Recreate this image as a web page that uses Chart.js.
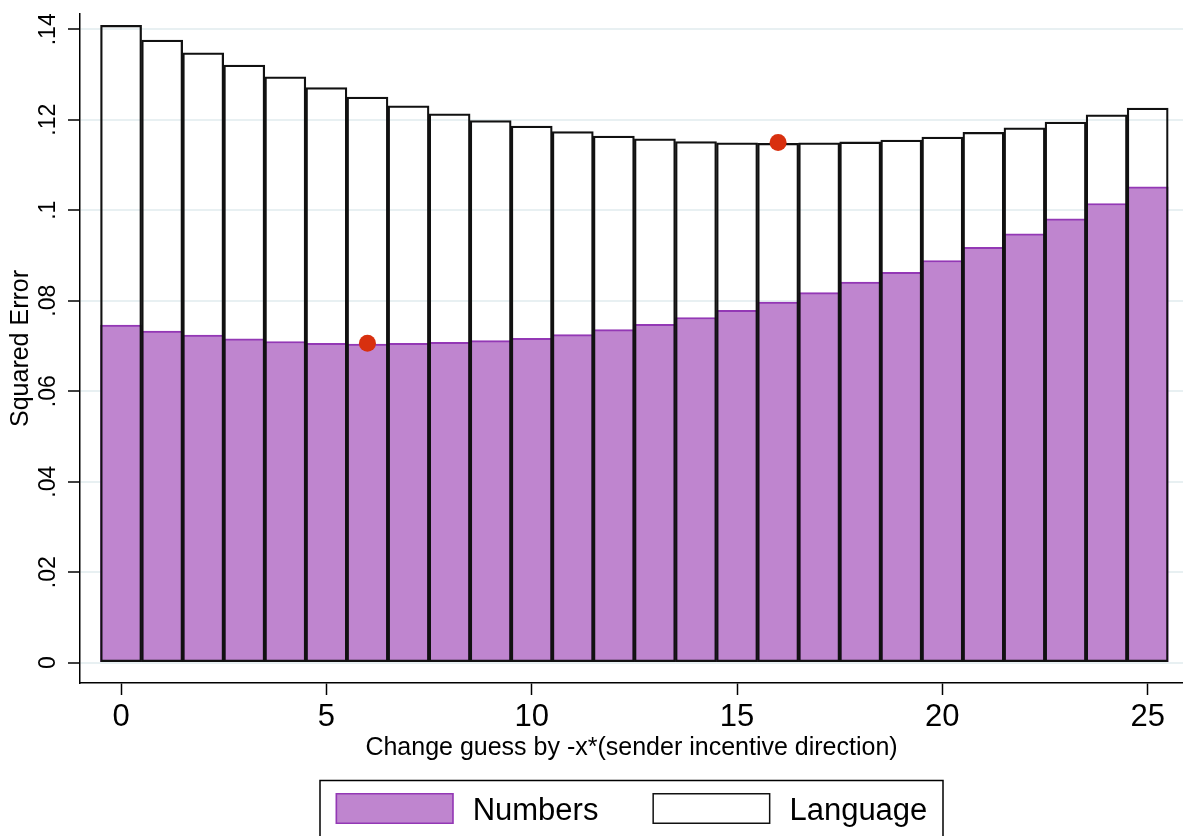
<!DOCTYPE html>
<html>
<head>
<meta charset="utf-8">
<title>Squared Error by guess change</title>
<script src="https://cdn.jsdelivr.net/npm/chart.js@4/dist/chart.umd.min.js"></script>
<style>
  html, body { margin: 0; padding: 0; background: #fff; overflow: hidden; }
  #wrap { width: 1183px; height: 836px; position: relative; }
</style>
</head>
<body>
<div id="wrap"><canvas id="chart"></canvas></div>
<script>
// Change in guess (units of -x*, sender incentive direction)
const shifts = [0, 1, 2, 3, 4, 5, 6, 7, 8, 9, 10, 11, 12, 13, 14, 15, 16, 17, 18, 19, 20, 21, 22, 23, 24, 25];

// Mean squared error of the adjusted guess
const numbersError = [0.0746, 0.0733, 0.0724, 0.0716, 0.0710, 0.0706, 0.0704, 0.0706, 0.0708, 0.0712,
                      0.0717, 0.0725, 0.0736, 0.0748, 0.0763, 0.0779, 0.0797, 0.0818, 0.0841, 0.0863,
                      0.0889, 0.0918, 0.0948, 0.0981, 0.1015, 0.1052];
const languageError = [0.1409, 0.1376, 0.1348, 0.1321, 0.1295, 0.1271, 0.1250, 0.1231, 0.1213, 0.1198,
                       0.1186, 0.1174, 0.1164, 0.1158, 0.1152, 0.1149, 0.1148, 0.1149, 0.1151, 0.1155,
                       0.1162, 0.1172, 0.1182, 0.1195, 0.1211, 0.1226];

// Minimum-error markers (Numbers at 6, Language at 16)
const minimumShift = [6, 16];
const minimumError = [0.0706, 0.1150];

// Axis ticks
const xTickValues = [0, 5, 10, 15, 20, 25];
const yTickValues = [0, 0.02, 0.04, 0.06, 0.08, 0.10, 0.12, 0.14];
const yTickLabels = ['0', '.02', '.04', '.06', '.08', '.1', '.12', '.14'];

const FONT = '"Liberation Sans", Arial, Helvetica, sans-serif';
const PURPLE = '#BF85CF';
const PURPLE_EDGE = '#9338B5';

const pairs = (xs, ys) => xs.map((x, i) => ({ x: x, y: ys[i] }));

// Framed legend along the bottom, centred under the plot area
const framedLegend = {
  id: 'framedLegend',
  afterDraw(chart, args, opts) {
    const { ctx, chartArea } = chart;
    const sets = chart.data.datasets.filter(d => d.legendFill);
    ctx.save();
    ctx.font = opts.fontSize + 'px ' + FONT;
    const widths = sets.map(d => ctx.measureText(d.label).width);
    let content = opts.itemGap * (sets.length - 1);
    widths.forEach(w => { content += opts.boxWidth + opts.textGap + w; });
    const cx = (chartArea.left + chartArea.right) / 2;
    const fl = cx - opts.frameWidth / 2;
    const fr = fl + opts.frameWidth;
    const ft = opts.frameTop;

    ctx.strokeStyle = '#000';
    ctx.lineWidth = 1.5;
    ctx.beginPath();
    ctx.moveTo(fl, chart.height + 4);
    ctx.lineTo(fl, ft);
    ctx.lineTo(fr, ft);
    ctx.lineTo(fr, chart.height + 4);
    ctx.stroke();

    let x = cx - content / 2;
    const bt = ft + opts.boxOffset;
    sets.forEach((d, i) => {
      ctx.fillStyle = d.legendFill;
      ctx.fillRect(x, bt, opts.boxWidth, opts.boxHeight);
      ctx.strokeStyle = d.borderColor;
      ctx.lineWidth = 1.5;
      ctx.strokeRect(x + 0.75, bt + 0.75, opts.boxWidth - 1.5, opts.boxHeight - 1.5);
      x += opts.boxWidth + opts.textGap;
      ctx.fillStyle = '#000';
      ctx.textAlign = 'left';
      ctx.textBaseline = 'alphabetic';
      ctx.fillText(d.label, x, bt + opts.baseline);
      x += widths[i] + opts.itemGap;
    });
    ctx.restore();
  }
};

new Chart(document.getElementById('chart'), {
  type: 'bar',
  data: {
    datasets: [
      {
        label: 'Numbers',
        data: pairs(shifts, numbersError),
        backgroundColor: PURPLE,
        borderColor: PURPLE_EDGE,
        legendFill: PURPLE,
        borderWidth: 2,
        borderSkipped: false,
        grouped: false,
        barPercentage: 1,
        categoryPercentage: 1,
        order: 2
      },
      {
        label: 'Language',
        data: pairs(shifts, languageError),
        backgroundColor: 'rgba(0,0,0,0)',
        borderColor: '#111',
        legendFill: '#fff',
        borderWidth: 1.6,
        borderSkipped: false,
        grouped: false,
        barPercentage: 1,
        categoryPercentage: 1,
        order: 1
      },
      {
        type: 'scatter',
        label: 'Minimum',
        data: pairs(minimumShift, minimumError),
        backgroundColor: '#D8300F',
        borderWidth: 0,
        pointRadius: 8.5,
        order: 0
      }
    ]
  },
  options: {
    responsive: true,
    maintainAspectRatio: false,
    animation: false,
    layout: { autoPadding: false, padding: { left: 9, top: 14, right: 0, bottom: 72.7 } },
    plugins: {
      legend: { display: false },
      tooltip: { enabled: false },
      framedLegend: {
        fontSize: 31, boxWidth: 118, boxHeight: 31, textGap: 19, itemGap: 54,
        frameWidth: 623, frameTop: 780.5, boxOffset: 12.5, baseline: 27
      }
    },
    scales: {
      x: {
        type: 'linear',
        offset: false,
        min: -1,
        max: 25.86,
        afterBuildTicks: s => { s.ticks = xTickValues.map(v => ({ value: v })); },
        afterFit: s => { s.height = 80.3; s.paddingLeft = 0; s.paddingRight = 0; },
        border: { display: true, color: '#000', width: 1.5 },
        grid: { offset: false, drawOnChartArea: false, drawTicks: true, tickLength: 12, tickColor: '#000', tickWidth: 1.5 },
        ticks: {
          color: '#000',
          font: { family: FONT, size: 31 },
          padding: 3.5,
          maxRotation: 0,
          autoSkip: false,
          callback: v => String(v)
        },
        title: {
          display: true,
          text: 'Change guess by -x*(sender incentive direction)',
          color: '#000',
          font: { family: FONT, size: 25, lineHeight: 1.2 },
          padding: { top: 0, bottom: 0 }
        }
      },
      y: {
        type: 'linear',
        min: -0.00449,
        max: 0.14338,
        afterBuildTicks: s => { s.ticks = yTickValues.map(v => ({ value: v })); },
        afterFit: s => { s.width = 71; s.paddingTop = 0; s.paddingBottom = 0; },
        border: { display: true, color: '#000', width: 1.5 },
        grid: { color: '#E8F0F2', lineWidth: 2, drawTicks: true, tickLength: 12, tickColor: '#000', tickWidth: 1.5 },
        ticks: {
          color: '#000',
          font: { family: FONT, size: 23 },
          padding: 3,
          minRotation: 90,
          maxRotation: 90,
          crossAlign: 'center',
          autoSkip: false,
          callback: (v, i) => yTickLabels[i]
        },
        title: {
          display: true,
          text: 'Squared Error',
          color: '#000',
          font: { family: FONT, size: 25, lineHeight: 1 },
          padding: { top: 0, bottom: 0 }
        }
      }
    }
  },
  plugins: [framedLegend]
});
</script>
</body>
</html>
